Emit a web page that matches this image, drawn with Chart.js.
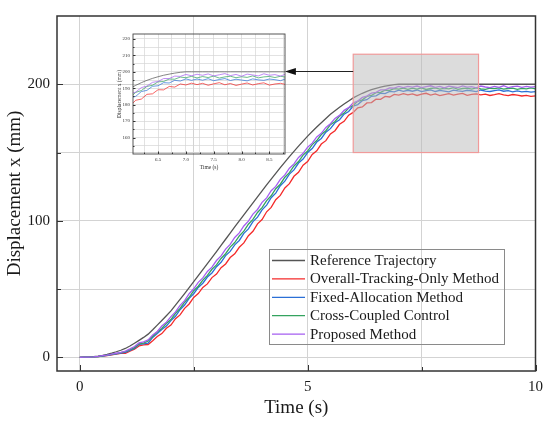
<!DOCTYPE html>
<html>
<head>
<meta charset="utf-8">
<script src="https://cdn.jsdelivr.net/npm/chart.js@4.4.1/dist/chart.umd.min.js"></script>
<style>
  html, body { margin: 0; padding: 0; background: #fff; }
  #wrap { position: relative; width: 550px; height: 426px; }
  #main { position: absolute; left: 0; top: 0; }
  #insetBox { position: absolute; left: 95px; top: 28px; width: 200px; height: 150px; }
</style>
</head>
<body>
<div id="wrap">
  <canvas id="main" width="550" height="426"></canvas>
  <div id="insetBox"><canvas id="inset" width="200" height="150"></canvas></div>
</div>
<script>
// time axis, 0..10 s every 0.1 s
const time = [
  0,0.1,0.2,0.3,0.4,0.5,0.6,0.7,0.8,0.9,
  1,1.1,1.2,1.3,1.4,1.5,1.6,1.7,1.8,1.9,
  2,2.1,2.2,2.3,2.4,2.5,2.6,2.7,2.8,2.9,
  3,3.1,3.2,3.3,3.4,3.5,3.6,3.7,3.8,3.9,
  4,4.1,4.2,4.3,4.4,4.5,4.6,4.7,4.8,4.9,
  5,5.1,5.2,5.3,5.4,5.5,5.6,5.7,5.8,5.9,
  6,6.1,6.2,6.3,6.4,6.5,6.6,6.7,6.8,6.9,
  7,7.1,7.2,7.3,7.4,7.5,7.6,7.7,7.8,7.9,
  8,8.1,8.2,8.3,8.4,8.5,8.6,8.7,8.8,8.9,
  9,9.1,9.2,9.3,9.4,9.5,9.6,9.7,9.8,9.9,
  10
];

const reference = [
  0,0.1,0.2,0.5,0.9,1.5,2.2,3.1,4.1,5.2,
  6.5,8.3,10.3,12.4,14.6,17.0,20.2,23.6,27.0,30.5,
  34.0,38.2,42.4,46.7,51.1,55.5,59.9,64.3,68.7,73.1,
  77.5,82.0,86.5,91.0,95.5,100.0,104.4,108.8,113.2,117.6,
  122.0,126.3,130.5,134.7,138.9,143.0,147.0,150.9,154.7,158.4,
  162.0,165.4,168.7,171.8,174.9,178.0,180.6,183.1,185.5,187.8,
  190.0,191.8,193.4,194.8,196.0,197.0,197.9,198.6,199.2,199.7,
  200,200,200,200,200,200,200,200,200,200,
  200,200,200,200,200,200,200,200,200,200,
  200,200,200,200,200,200,200,200,200,200,
  200
];

const overallTracking = [
  0,0.1,0.1,0.3,0.5,0.9,1.3,1.8,2.3,2.9,
  3.0,4.6,6.0,8.4,9.2,9.4,12.2,15.3,17.4,21.3,
  23.6,28.3,31.1,35.9,39.1,43.9,46.7,51.2,53.8,58.4,
  61.0,65.7,68.4,73.1,75.8,80.6,83.8,89.1,92.3,97.8,
  100.9,106.6,109.8,115.4,118.6,124.1,127.2,132.6,135.5,140.7,
  143.4,148.6,151.3,156.2,158.7,163.6,166.0,170.7,172.9,177.4,
  179.4,182.7,183.4,186.3,186.6,189.1,189.0,191.1,190.7,192.6,
  192.0,193.1,192.2,193.0,191.8,192.7,193.4,192.1,192.9,191.7,
  192.5,193.2,192.0,192.8,193.3,191.9,192.6,193.0,192.2,192.8,
  191.8,192.4,193.1,192.3,191.7,192.5,192.0,191.4,191.8,191.2,
  191.5
];

const fixedAllocation = [
  0,0.1,0.1,0.3,0.6,1.0,1.5,2.0,2.6,3.1,
  3.6,5.0,6.6,9.6,9.9,10.4,14.6,17.4,20.4,23.0,
  26.9,30.1,34.9,38.3,43.2,46.6,51.2,54.3,58.8,61.8,
  66.4,69.6,74.5,77.6,82.4,85.6,90.8,94.1,99.4,102.7,
  108.0,111.5,116.9,120.3,125.7,129.0,134.2,137.3,142.3,145.2,
  150.0,152.9,157.7,160.3,164.9,167.5,171.8,174.0,178.1,180.1,
  184.0,185.1,188.0,188.7,191.2,191.5,193.4,193.2,194.8,194.4,
  195.7,194.8,195.6,194.9,195.8,194.6,195.3,195.9,194.7,195.5,
  195.0,194.5,195.7,195.1,194.8,195.6,195.2,194.6,195.8,195.0,
  194.7,195.4,195.9,194.9,195.3,194.5,195.1,194.4,194.8,194.3,
  194.6
];

const crossCoupled = [
  0,0.1,0.2,0.4,0.6,1.1,1.6,2.2,2.8,3.4,
  4.1,5.6,7.1,9.8,10.4,12.0,15.3,18.6,21.2,25.0,
  27.7,32.3,35.8,40.4,44.0,48.8,52.1,56.6,60.0,64.5,
  67.7,72.4,75.9,80.7,84.1,88.9,92.4,97.5,101.0,106.1,
  109.6,114.8,118.3,123.5,126.8,131.9,135.3,140.2,143.4,148.1,
  151.1,155.8,158.8,163.2,166.0,170.4,172.8,176.7,178.9,182.6,
  184.6,187.5,188.6,191.1,191.8,193.9,194.1,195.6,195.5,196.8,
  196.4,197.2,196.3,197.1,196.5,197.4,196.2,196.9,197.3,196.4,
  197.0,196.6,197.5,196.3,196.9,197.2,196.5,197.3,196.7,196.2,
  197.1,196.8,197.4,196.4,196.9,197.2,196.3,197.0,196.6,197.3,
  196.7
];

const proposed = [
  0,0.1,0.2,0.4,0.7,1.2,1.7,2.3,3.0,3.6,
  4.6,6.2,7.9,10.6,11.4,12.8,16.4,19.0,22.9,25.8,
  29.8,33.3,38.1,41.5,46.6,50.2,54.9,58.2,62.9,66.1,
  70.9,74.3,79.3,82.7,87.8,91.1,96.2,99.7,104.9,108.3,
  113.5,116.8,122.0,125.2,130.4,133.6,138.5,141.7,146.4,149.4,
  153.9,156.9,161.4,164.1,168.4,171.1,175.0,177.2,180.9,182.9,
  186.4,187.7,190.4,191.3,193.6,194.1,195.9,195.9,197.4,197.2,
  198.4,197.6,198.5,197.9,198.7,197.5,198.2,198.9,197.7,198.4,
  197.3,198.6,198.1,197.5,198.8,197.9,198.3,197.4,198.7,198.0,
  197.6,198.5,197.8,198.9,197.5,198.2,198.6,197.7,198.4,197.9,
  198.3
];

const seriesLabels = [
  "Reference Trajectory",
  "Overall-Tracking-Only Method",
  "Fixed-Allocation Method",
  "Cross-Coupled Control",
  "Proposed Method"
];
const seriesData = [reference, overallTracking, fixedAllocation, crossCoupled, proposed];
const seriesColors = ["#555555", "#f42a2a", "#2b6fd6", "#34a35f", "#a55ef0"];

// main axes ticks
const xGrid = [0, 2.5, 5, 7.5, 10];
const xTicks = [0, 5, 10];
const yGrid = [0, 50, 100, 150, 200];
const yTicks = [0, 100, 200];

// inset axes ticks
const insetXGrid = [6.25, 6.5, 6.75, 7, 7.25, 7.5, 7.75, 8, 8.25, 8.5, 8.75];
const insetXTicks = [6.5, 7, 7.5, 8, 8.5];
const insetYGrid = [155, 160, 165, 170, 175, 180, 185, 190, 195, 200, 205, 210, 215, 220];
const insetYTicks = [160, 170, 180, 190, 200, 210, 220];

// zoom window and arrow, in data units
const zoomBox = { x0: 6.0, x1: 8.75, y0: 150, y1: 222 };
const arrow = { fromX: 6.0, toX: 4.5, y: 210 };

const serif = "'Liberation Serif', 'Times New Roman', serif";
const ink = "#1a1a1a";

function makeDatasets(width, alpha) {
  return seriesData.map((arr, i) => ({
    label: seriesLabels[i],
    data: time.map((t, k) => ({ x: t, y: arr[k] })),
    borderColor: seriesColors[i] + alpha,
    borderWidth: width,
    pointRadius: 0,
    fill: false,
    tension: 0,
    order: seriesData.length - i
  }));
}

function inwardTicks(ctx, area, xs, ys, xScale, yScale, major, minor, xMaj, yMaj) {
  ctx.save();
  ctx.strokeStyle = "#333";
  ctx.lineWidth = 1;
  xs.forEach(v => {
    const px = Math.round(xScale.getPixelForValue(v)) + 0.5;
    const len = xMaj.includes(v) ? major : minor;
    ctx.beginPath();
    ctx.moveTo(px, area.bottom);
    ctx.lineTo(px, area.bottom - len);
    ctx.stroke();
  });
  ys.forEach(v => {
    const py = Math.round(yScale.getPixelForValue(v)) + 0.5;
    const len = yMaj.includes(v) ? major : minor;
    ctx.beginPath();
    ctx.moveTo(area.left, py);
    ctx.lineTo(area.left + len, py);
    ctx.stroke();
  });
  ctx.restore();
}

const mainDecor = {
  id: "mainDecor",
  afterDatasetsDraw(chart) {
    const { ctx, chartArea: a, scales: { x, y } } = chart;
    // shaded zoom window
    const bx0 = x.getPixelForValue(zoomBox.x0), bx1 = x.getPixelForValue(zoomBox.x1);
    const by0 = y.getPixelForValue(zoomBox.y1), by1 = y.getPixelForValue(zoomBox.y0);
    ctx.save();
    ctx.fillStyle = "rgba(185,185,185,0.5)";
    ctx.fillRect(bx0, by0, bx1 - bx0, by1 - by0);
    ctx.strokeStyle = "#f09a9a";
    ctx.lineWidth = 1.2;
    ctx.strokeRect(bx0, by0, bx1 - bx0, by1 - by0);

    // arrow towards the inset
    const ay = Math.round(y.getPixelForValue(arrow.y)) + 0.5;
    const ax0 = x.getPixelForValue(arrow.fromX), ax1 = x.getPixelForValue(arrow.toX);
    ctx.strokeStyle = "#222";
    ctx.fillStyle = "#111";
    ctx.lineWidth = 1;
    ctx.beginPath();
    ctx.moveTo(ax0, ay);
    ctx.lineTo(ax1 + 8, ay);
    ctx.stroke();
    ctx.beginPath();
    ctx.moveTo(ax1, ay);
    ctx.lineTo(ax1 + 11, ay - 3.5);
    ctx.lineTo(ax1 + 11, ay + 3.5);
    ctx.closePath();
    ctx.fill();

    // frame
    ctx.strokeStyle = "#333";
    ctx.lineWidth = 1.5;
    ctx.strokeRect(a.left, a.top, a.right - a.left, a.bottom - a.top);
    ctx.restore();
    inwardTicks(ctx, a, xGrid, yGrid, x, y, 6, 4, xTicks, yTicks);
  },
  afterDraw(chart) {
    const { ctx } = chart;
    // legend box
    const lx = 269, ly = 249, lw = 235, lh = 95, row = 18.4;
    ctx.save();
    ctx.strokeStyle = "#8a8a8a";
    ctx.lineWidth = 1;
    ctx.strokeRect(lx + 0.5, ly + 0.5, lw, lh);
    ctx.font = "15px " + serif;
    ctx.textBaseline = "middle";
    ctx.fillStyle = ink;
    chart.data.datasets.forEach((ds, i) => {
      const cy = ly + 11.5 + i * row;
      ctx.strokeStyle = ds.borderColor;
      ctx.lineWidth = 1.3;
      ctx.beginPath();
      ctx.moveTo(lx + 3, cy);
      ctx.lineTo(lx + 36, cy);
      ctx.stroke();
      ctx.fillText(ds.label, lx + 41, cy + 0.5);
    });
    ctx.restore();
  }
};

new Chart(document.getElementById("main"), {
  type: "line",
  data: { datasets: makeDatasets(1.3, "") },
  options: {
    responsive: false,
    animation: false,
    layout: { padding: { top: 7, right: 10, left: 0, bottom: 0 } },
    plugins: { legend: { display: false }, tooltip: { enabled: false } },
    scales: {
      x: {
        type: "linear",
        min: -0.5,
        max: 10,
        afterBuildTicks: s => { s.ticks = xGrid.map(v => ({ value: v })); },
        afterFit: s => { s.height = 55; },
        ticks: {
          autoSkip: false,
          maxRotation: 0,
          padding: 7,
          color: ink,
          font: { family: serif, size: 15 },
          callback: v => xTicks.includes(v) ? String(v) : ""
        },
        grid: { color: "#d3d3d3", lineWidth: 1, drawTicks: false },
        border: { display: false },
        title: {
          display: true,
          text: "Time (s)",
          color: ink,
          font: { family: serif, size: 19 },
          padding: { top: 0, bottom: 7 }
        }
      },
      y: {
        type: "linear",
        min: -10,
        max: 250,
        afterBuildTicks: s => { s.ticks = yGrid.map(v => ({ value: v })); },
        afterFit: s => { s.width = 57; },
        ticks: {
          autoSkip: false,
          padding: 7,
          color: ink,
          font: { family: serif, size: 15 },
          callback: v => yTicks.includes(v) ? String(v) : ""
        },
        grid: { color: "#d3d3d3", lineWidth: 1, drawTicks: false },
        border: { display: false },
        title: {
          display: true,
          text: "Displacement x (mm)",
          color: ink,
          font: { family: serif, size: 19 },
          padding: { top: 4, bottom: 0 }
        }
      }
    }
  },
  plugins: [mainDecor]
});

const insetDecor = {
  id: "insetDecor",
  afterDatasetsDraw(chart) {
    const { ctx, chartArea: a, scales: { x, y } } = chart;
    ctx.save();
    ctx.strokeStyle = "#444";
    ctx.lineWidth = 0.9;
    ctx.strokeRect(a.left, a.top, a.right - a.left, a.bottom - a.top);
    ctx.restore();
    inwardTicks(ctx, a, insetXGrid, insetYGrid, x, y, 2.5, 1.5, insetXTicks, insetYTicks);
  }
};

new Chart(document.getElementById("inset"), {
  type: "line",
  data: { datasets: makeDatasets(0.9, "cc") },
  options: {
    responsive: false,
    animation: false,
    layout: { padding: { top: 5, right: 10, left: 0, bottom: 0 } },
    plugins: { legend: { display: false }, tooltip: { enabled: false } },
    scales: {
      x: {
        type: "linear",
        min: 6.05,
        max: 8.78,
        afterBuildTicks: s => { s.ticks = insetXGrid.map(v => ({ value: v })); },
        afterFit: s => { s.height = 24; },
        ticks: {
          autoSkip: false,
          maxRotation: 0,
          padding: 3,
          color: "#333",
          font: { family: serif, size: 5 },
          callback: v => insetXTicks.includes(v) ? v.toFixed(1) : ""
        },
        grid: { color: "#d6d6d6", lineWidth: 0.7, drawTicks: false },
        border: { display: false },
        title: {
          display: true,
          text: "Time (s)",
          color: "#333",
          font: { family: serif, size: 5.5 },
          padding: { top: 0, bottom: 7.5 }
        }
      },
      y: {
        type: "linear",
        min: 150,
        max: 223,
        afterBuildTicks: s => { s.ticks = insetYGrid.map(v => ({ value: v })); },
        afterFit: s => { s.width = 38; },
        ticks: {
          autoSkip: false,
          padding: 3,
          color: "#333",
          font: { family: serif, size: 5 },
          callback: v => insetYTicks.includes(v) ? String(v) : ""
        },
        grid: { color: "#d6d6d6", lineWidth: 0.7, drawTicks: false },
        border: { display: false },
        title: {
          display: true,
          text: "Displacement x (mm)",
          color: "#333",
          font: { family: serif, size: 5.5 },
          padding: { top: 21, bottom: 0 }
        }
      }
    }
  },
  plugins: [insetDecor]
});
</script>
</body>
</html>
